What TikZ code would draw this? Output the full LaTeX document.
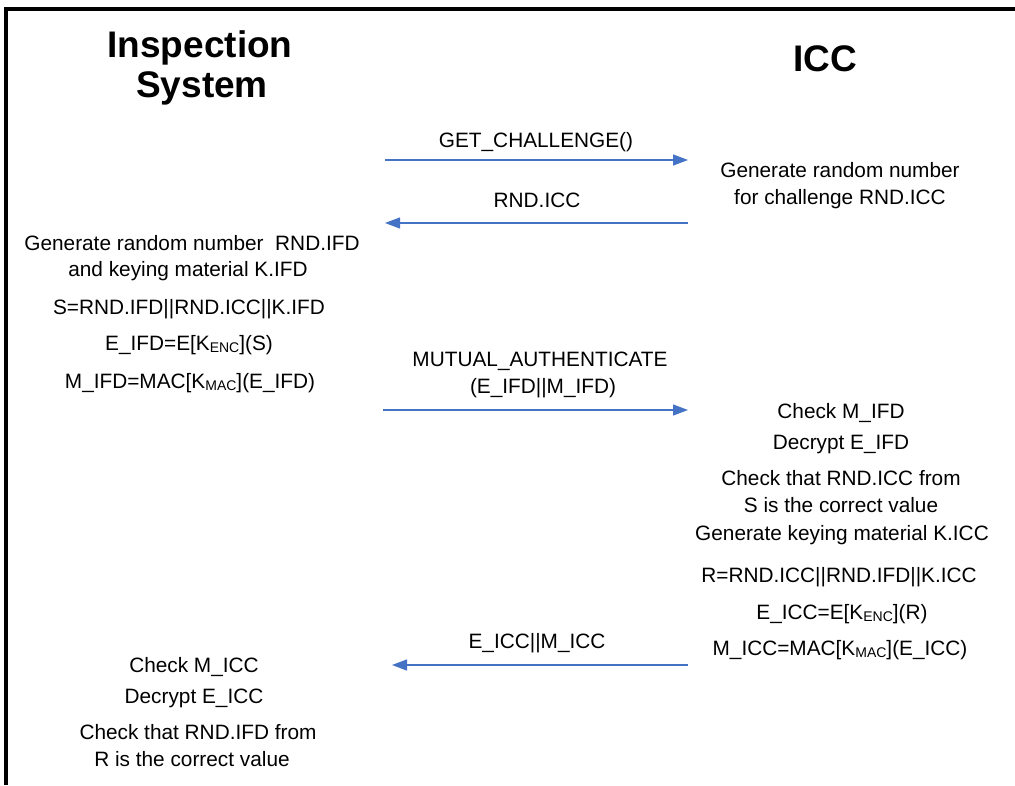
\documentclass[tikz,border=0pt]{standalone}
\usepackage{fontspec}
\setmainfont{Liberation Sans}
\usetikzlibrary{arrows.meta}
\definecolor{arrowblue}{HTML}{4472C4}
\newcommand{\Ksub}[1]{K\raisebox{-0.2ex}{\fontsize{14}{14}\selectfont #1}}
\begin{document}
\begin{tikzpicture}[x=1pt,y=-1pt,
  txt/.style={anchor=base,inner sep=0pt,font=\fontsize{20.8}{27}\selectfont},
  head/.style={anchor=base,inner sep=0pt,font=\fontsize{37}{42}\selectfont\bfseries},
  msg/.style={draw=arrowblue,line width=1.3pt,-{Triangle[length=15pt,width=11pt]},color=arrowblue}]
\useasboundingbox (0,0) rectangle (1015,785);
\draw[line width=4pt,line join=miter] (6,785) -- (6,8.7) -- (1015,8.7);
% headers
\node[head] (h1) at (200,57) {Inspection};
\node[head] (h2) at (202,97) {System};
\node[head] (h3) at (825,71) {ICC};
% arrow endpoints
\coordinate (a1s) at (385,160); \coordinate (a1e) at (688,160);
\coordinate (a2s) at (688,223); \coordinate (a2e) at (385,223);
\coordinate (a3s) at (383,410); \coordinate (a3e) at (688,410);
\coordinate (a4s) at (688,665); \coordinate (a4e) at (392,665);
\draw[msg] (a1s) -- (a1e);
\draw[msg] (a2s) -- (a2e);
\draw[msg] (a3s) -- (a3e);
\draw[msg] (a4s) -- (a4e);
% labels
\node[txt] (l1) at (536,147.5) {GET\_CHALLENGE()};
\node[txt] (l2) at (537,207.5) {RND.ICC};
\node[txt] (l3) at (540,366.5) {MUTUAL\_AUTHENTICATE};
\node[txt] (l4) at (543,393.5) {(E\_IFD||M\_IFD)};
\node[txt] (l5) at (537,648.5) {E\_ICC||M\_ICC};
% right column
\node[txt] (r1) at (840,177.5) {Generate random number};
\node[txt] (r2) at (840,204.5) {for challenge RND.ICC};
\node[txt] (r3) at (841,418.5) {Check M\_IFD};
\node[txt] (r4) at (841,449.5) {Decrypt E\_IFD};
\node[txt] (r5) at (841,485.5) {Check that RND.ICC from};
\node[txt] (r6) at (841,512.5) {S is the correct value};
\node[txt] (r7) at (842,540.5) {Generate keying material K.ICC};
\node[txt] (r8) at (839,582.5) {R=RND.ICC||RND.IFD||K.ICC};
\node[txt] (r9) at (842,619.5) {E\_ICC=E[\Ksub{ENC}](R)};
\node[txt] (r10) at (840,655.5) {M\_ICC=MAC[\Ksub{MAC}](E\_ICC)};
% left column
\node[txt] (s1) at (192,250.5) {Generate random number\ \ RND.IFD};
\node[txt] (s2) at (188,276.5) {and keying material K.IFD};
\node[txt] (s3) at (189,314.5) {S=RND.IFD||RND.ICC||K.IFD};
\node[txt] (s4) at (189,350.5) {E\_IFD=E[\Ksub{ENC}](S)};
\node[txt] (s5) at (190,388.5) {M\_IFD=MAC[\Ksub{MAC}](E\_IFD)};
\node[txt] (t1) at (194,672.5) {Check M\_ICC};
\node[txt] (t2) at (194,703.5) {Decrypt E\_ICC};
\node[txt] (t3) at (198,739.5) {Check that RND.IFD from};
\node[txt] (t4) at (192,766.5) {R is the correct value};
\end{tikzpicture}
\end{document}
